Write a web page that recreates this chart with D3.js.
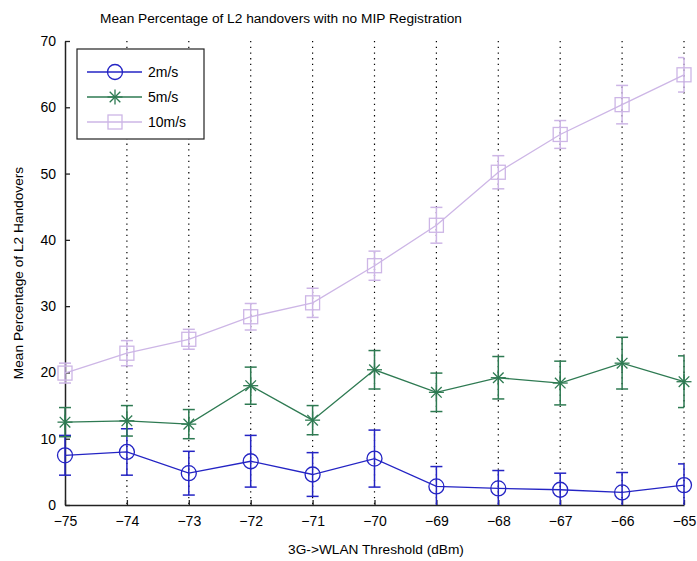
<!DOCTYPE html>
<html>
<head>
<meta charset="utf-8">
<script src="https://cdn.jsdelivr.net/npm/d3@7"></script>
<style>
  body { margin: 0; background: #fff; }
  text { font-family: "Liberation Sans", Arial, sans-serif; fill: #000; }
</style>
</head>
<body>
<script>
const thresholds = [-75, -74, -73, -72, -71, -70, -69, -68, -67, -66, -65];
const yTicks = [0, 10, 20, 30, 40, 50, 60, 70];

const mean2 = [7.5, 8.0, 4.8, 6.6, 4.6, 7.0, 2.8, 2.5, 2.3, 1.9, 3.0];
const err2  = [3.0, 3.5, 3.3, 3.9, 3.3, 4.3, 3.0, 2.7, 2.5, 3.0, 3.2];
const mean5 = [12.5, 12.7, 12.2, 18.0, 12.8, 20.4, 17.0, 19.2, 18.4, 21.4, 18.6];
const err5  = [2.2, 2.3, 2.2, 2.8, 2.2, 2.9, 2.9, 3.2, 3.3, 3.9, 3.9];
const mean10 = [19.9, 22.9, 25.0, 28.4, 30.5, 36.1, 42.2, 50.2, 55.9, 60.4, 64.9];
const err10  = [1.5, 1.9, 1.5, 2.0, 2.2, 2.2, 2.7, 2.5, 2.1, 2.9, 2.6];

const series = [
  {name: "2m/s", mean: mean2, err: err2, color: "#2424c4", marker: "circle"},
  {name: "5m/s", mean: mean5, err: err5, color: "#2e7a52", marker: "star"},
  {name: "10m/s", mean: mean10, err: err10, color: "#cdb6e6", marker: "square"}
];

const W = 697, H = 561;
const margin = {top: 41, right: 13, bottom: 56, left: 65};

const svg = d3.select("body").append("svg")
  .attr("width", W).attr("height", H);

const x = d3.scaleLinear().domain([-75, -65]).range([margin.left, W - margin.right]);
const y = d3.scaleLinear().domain([0, 70]).range([H - margin.bottom, margin.top]);

// dotted vertical grid
svg.append("g").selectAll("line")
  .data(thresholds.slice(1))
  .enter().append("line")
  .attr("x1", d => x(d)).attr("x2", d => x(d))
  .attr("y1", y(70)).attr("y2", y(0))
  .attr("stroke", "#000").attr("stroke-width", 1.2)
  .attr("stroke-dasharray", "1.3,4.4");

// axes
const xAxis = d3.axisBottom(x).tickValues(thresholds).tickSizeInner(-5).tickSizeOuter(0).tickPadding(11);
const yAxis = d3.axisLeft(y).tickValues(yTicks).tickSizeInner(-5).tickSizeOuter(0).tickPadding(9);

const gx = svg.append("g").attr("transform", "translate(0," + y(0) + ")").call(xAxis);
const gy = svg.append("g").attr("transform", "translate(" + x(-75) + ",0)").call(yAxis);
[gx, gy].forEach(g => {
  g.select(".domain").attr("stroke", "#222").attr("stroke-width", 1.5);
  g.selectAll(".tick line").attr("stroke", "#222").attr("stroke-width", 1.3);
  g.selectAll(".tick text").style("font-size", "14px").attr("fill", "#000")
    .style("font-family", "'Liberation Sans', Arial, sans-serif");
});

function drawMarker(g, type, color) {
  if (type == "circle") {
    g.append("circle").attr("r", 7.5).attr("fill", "none").attr("stroke", color).attr("stroke-width", 1.3);
  } else if (type == "square") {
    g.append("rect").attr("x", -7).attr("y", -7).attr("width", 14).attr("height", 14)
      .attr("fill", "none").attr("stroke", color).attr("stroke-width", 1.3);
  } else {
    const r = 7.5;
    [0, 45, 90, 135].forEach(a => {
      const rad = a * Math.PI / 180;
      g.append("line")
        .attr("x1", -r * Math.cos(rad)).attr("y1", -r * Math.sin(rad))
        .attr("x2", r * Math.cos(rad)).attr("y2", r * Math.sin(rad))
        .attr("stroke", color).attr("stroke-width", 1.3);
    });
  }
}

const line = d3.line().x(d => x(d.t)).y(d => y(d.m));

series.forEach(s => {
  const pts = thresholds.map((t, i) => ({t: t, m: s.mean[i], e: s.err[i]}));
  const g = svg.append("g");
  g.append("path").datum(pts).attr("d", line)
    .attr("fill", "none").attr("stroke", s.color).attr("stroke-width", 1.3);

  const eb = g.selectAll(".eb").data(pts).enter().append("g");
  eb.append("line")
    .attr("x1", d => x(d.t)).attr("x2", d => x(d.t))
    .attr("y1", d => y(Math.max(0, d.m - d.e))).attr("y2", d => y(d.m + d.e))
    .attr("stroke", s.color).attr("stroke-width", 1.5);
  eb.each(function(d) {
    const sel = d3.select(this);
    const cap = 6;
    const lo = d.m - d.e;
    const ends = lo > 0 ? [lo, d.m + d.e] : [d.m + d.e];
    ends.forEach(v => {
      // caps at the last threshold are clipped to the axes edge
      const x1 = d.t == -65 ? x(d.t) : x(d.t) + cap;
      sel.append("line").attr("x1", x(d.t) - cap).attr("x2", x1)
        .attr("y1", y(v)).attr("y2", y(v))
        .attr("stroke", s.color).attr("stroke-width", 1.5);
    });
  });

  pts.forEach(d => {
    const mg = g.append("g").attr("transform", "translate(" + x(d.t) + "," + y(d.m) + ")");
    drawMarker(mg, s.marker, s.color);
  });
});

// legend
const legend = svg.append("g");
legend.append("rect").attr("x", 77).attr("y", 49).attr("width", 127).attr("height", 90)
  .attr("fill", "#fff").attr("stroke", "#222").attr("stroke-width", 1.2);
series.forEach((s, i) => {
  const ly = 72 + i * 25;
  legend.append("line").attr("x1", 87).attr("x2", 142).attr("y1", ly).attr("y2", ly)
    .attr("stroke", s.color).attr("stroke-width", 1.3);
  const mg = legend.append("g").attr("transform", "translate(115," + ly + ")");
  drawMarker(mg, s.marker, s.color);
  legend.append("text").attr("x", 148).attr("y", ly + 5)
    .style("font-size", "14px").text(s.name);
});

// title and labels
svg.append("text").attr("x", 281).attr("y", 23).attr("text-anchor", "middle")
  .style("font-size", "13.7px").text("Mean Percentage of L2 handovers with no MIP Registration");
svg.append("text").attr("x", 376).attr("y", 554).attr("text-anchor", "middle")
  .style("font-size", "13.7px").text("3G->WLAN Threshold (dBm)");
svg.append("text").attr("transform", "translate(23,273) rotate(-90)").attr("text-anchor", "middle")
  .style("font-size", "13.7px").text("Mean Percentage of L2 Handovers");
</script>
</body>
</html>
